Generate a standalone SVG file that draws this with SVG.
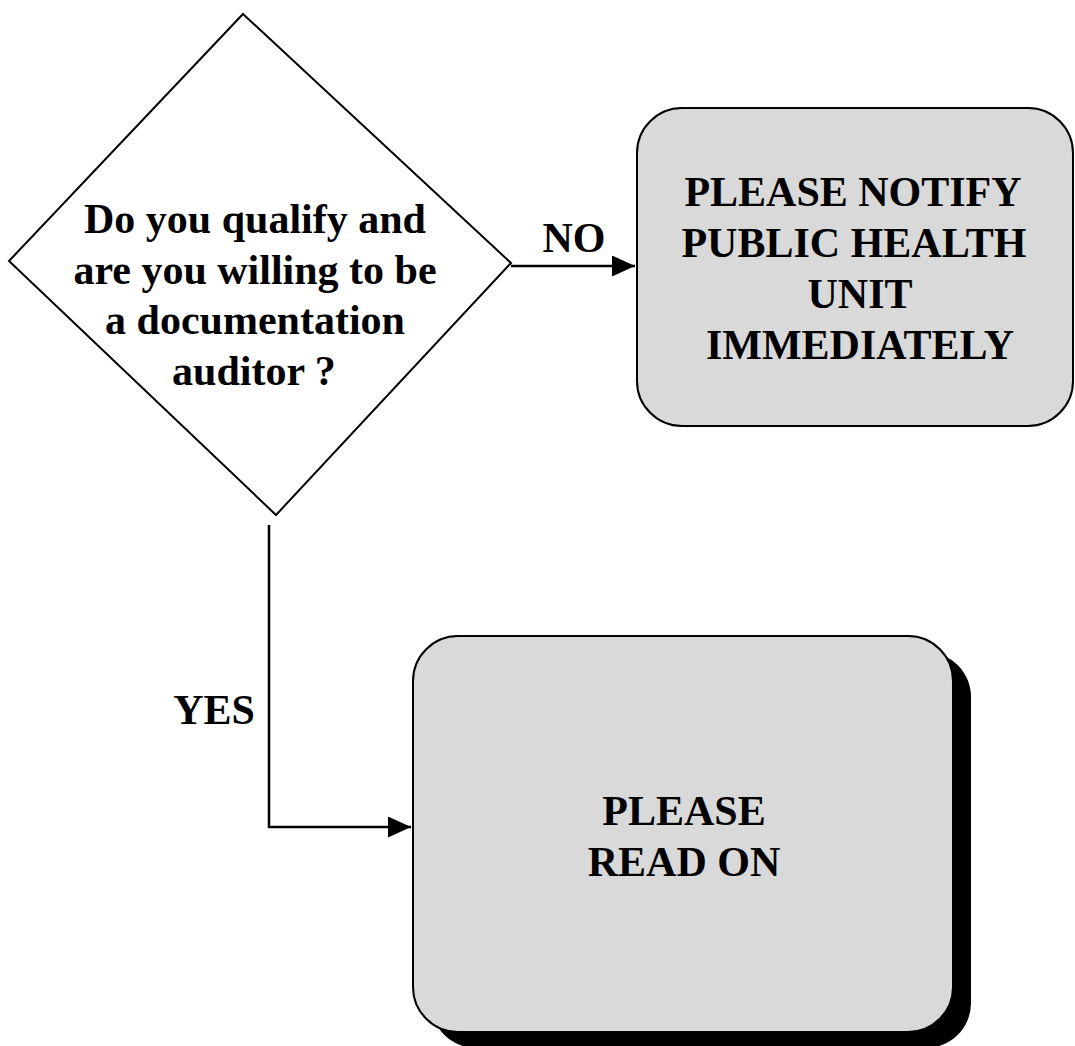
<svg xmlns="http://www.w3.org/2000/svg" width="1075" height="1046" viewBox="0 0 1075 1046">
<style>
text{font-family:"Liberation Serif","Times New Roman",serif;font-weight:bold;font-size:42px;fill:#000;text-anchor:middle}
.box{fill:#d9d9d9;stroke:#000;stroke-width:2}
.conn{fill:none;stroke:#000;stroke-width:2.5}
</style>
<defs>
<marker id="arr" markerUnits="userSpaceOnUse" markerWidth="24" markerHeight="22" refX="23" refY="10.5" orient="auto">
<path d="M0,0 L23,10.5 L0,21 Z" fill="#000"/>
</marker>
</defs>
<rect width="1075" height="1046" fill="#fff"/>
<g id="decision">
<polygon points="243,14 511,263 276,515 9,261" fill="#fff" stroke="#000" stroke-width="2"/>
<text x="255" y="233">Do you qualify and</text>
<text x="255" y="284">are you willing to be</text>
<text x="255" y="334">a documentation</text>
<text x="254" y="385">auditor ?</text>
</g>
<g id="notify">
<rect class="box" x="637" y="108" width="436" height="318" rx="45" ry="45"/>
<text x="853" y="206">PLEASE NOTIFY</text>
<text x="854" y="257">PUBLIC HEALTH</text>
<text x="860" y="308">UNIT</text>
<text x="860" y="359">IMMEDIATELY</text>
</g>
<g id="readon">
<rect x="431" y="652" width="540" height="396" rx="45" ry="45" fill="#000"/>
<rect class="box" x="413" y="636" width="540" height="396" rx="45" ry="45"/>
<text x="684" y="825">PLEASE</text>
<text x="684" y="876">READ ON</text>
</g>
<g id="connectors">
<line class="conn" x1="511" y1="266" x2="635" y2="266" marker-end="url(#arr)"/>
<polyline class="conn" points="269,525 269,827 411,827" marker-end="url(#arr)"/>
<text x="574" y="252">NO</text>
<text x="214" y="724">YES</text>
</g>
</svg>
